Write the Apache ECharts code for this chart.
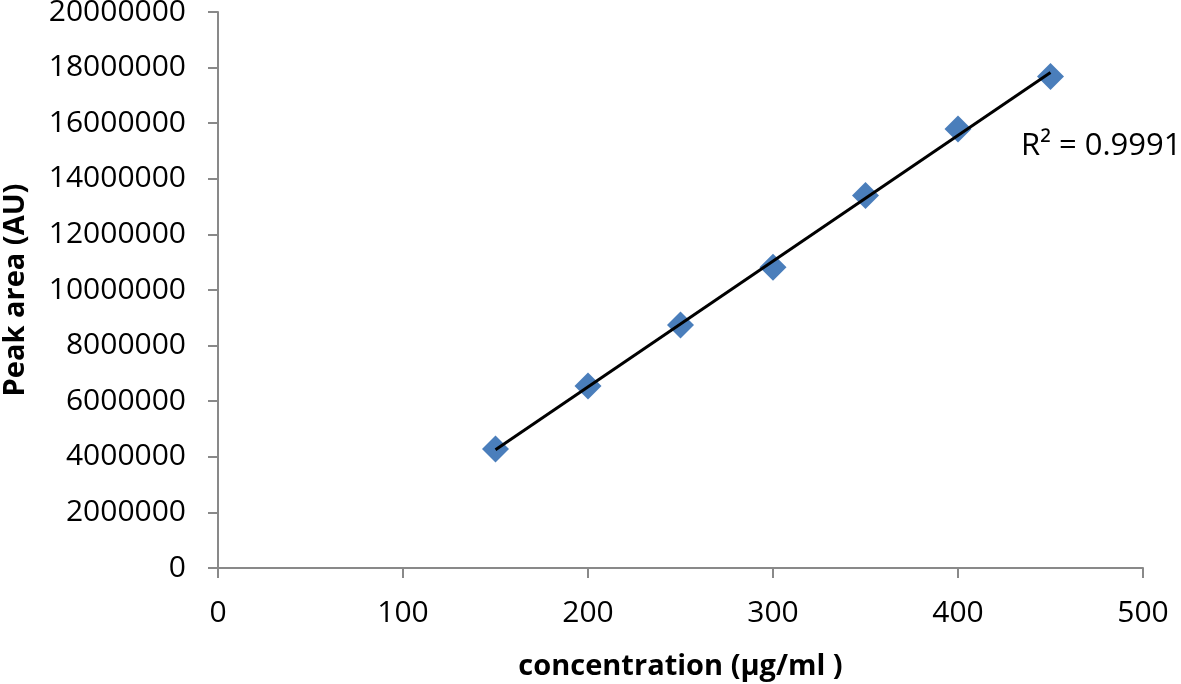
<!DOCTYPE html>
<html><head><meta charset="utf-8">
<script src="https://cdn.jsdelivr.net/npm/echarts@6/dist/echarts.min.js"></script>
<style>html,body{margin:0;padding:0;background:#fff}#c{width:1181px;height:684px}</style>
</head><body><div id="c"></div>
<script>
const concentrations = [150, 200, 250, 300, 350, 400, 450];
const peakAreas = [4280000, 6550000, 8740000, 10820000, 13400000, 15790000, 17680000];
const xTicks = [0, 100, 200, 300, 400, 500];
const yTicks = [0, 2000000, 4000000, 6000000, 8000000, 10000000, 12000000, 14000000, 16000000, 18000000, 20000000];
const r2Label = 'R² = 0.9991';

// least-squares trendline from the data
const n = concentrations.length;
const mx = concentrations.reduce((a,b)=>a+b,0)/n;
const my = peakAreas.reduce((a,b)=>a+b,0)/n;
let sxy=0, sxx=0;
for(let i=0;i<n;i++){sxy+=(concentrations[i]-mx)*(peakAreas[i]-my);sxx+=(concentrations[i]-mx)**2;}
const slope=sxy/sxx, intercept=my-slope*mx;
const x0=concentrations[0], x1=concentrations[n-1];
const trend=[[x0,slope*x0+intercept],[x1,slope*x1+intercept]];

const font = '"Open Sans", "Liberation Sans", sans-serif';
const chart = echarts.init(document.getElementById('c'));
chart.setOption({
  animation:false,
  grid:{left:218,right:38,top:12,bottom:116,containLabel:false,outerBoundsMode:'none'},
  xAxis:{type:'value',min:xTicks[0],max:xTicks[xTicks.length-1],interval:100,
    name:'concentration (µg/ml )',nameLocation:'middle',nameGap:84,
    nameTextStyle:{fontFamily:font,fontSize:29,fontWeight:'bold',color:'#000'},
    axisLine:{show:true,lineStyle:{color:'#898989',width:2}},
    axisTick:{show:true,length:10,lineStyle:{color:'#898989',width:2}},
    axisLabel:{margin:30,fontFamily:font,fontSize:30,color:'#000',formatter:v=>String(v)},
    splitLine:{show:false}},
  yAxis:{type:'value',min:yTicks[0],max:yTicks[yTicks.length-1],interval:2000000,
    name:'Peak area (AU)',nameLocation:'middle',nameGap:188,
    nameTextStyle:{fontFamily:font,fontSize:29,fontWeight:'bold',color:'#000'},
    axisLine:{show:true,lineStyle:{color:'#898989',width:2}},
    axisTick:{show:true,length:10,lineStyle:{color:'#898989',width:2}},
    axisLabel:{margin:32,fontFamily:font,fontSize:30,color:'#000',formatter:v=>String(v)},
    splitLine:{show:false}},
  series:[
    {type:'line',data:trend,symbol:'none',lineStyle:{color:'#000',width:3},z:3},
    {type:'scatter',data:concentrations.map((c,i)=>[c,peakAreas[i]]),symbol:'diamond',symbolSize:[27,27],
      itemStyle:{color:'#4A7EBB',opacity:1},z:2}
  ],
  graphic:[{type:'text',left:1021,top:131,style:{text:r2Label,font:'31px '+font,fill:'#000'}}]
});
</script></body></html>
